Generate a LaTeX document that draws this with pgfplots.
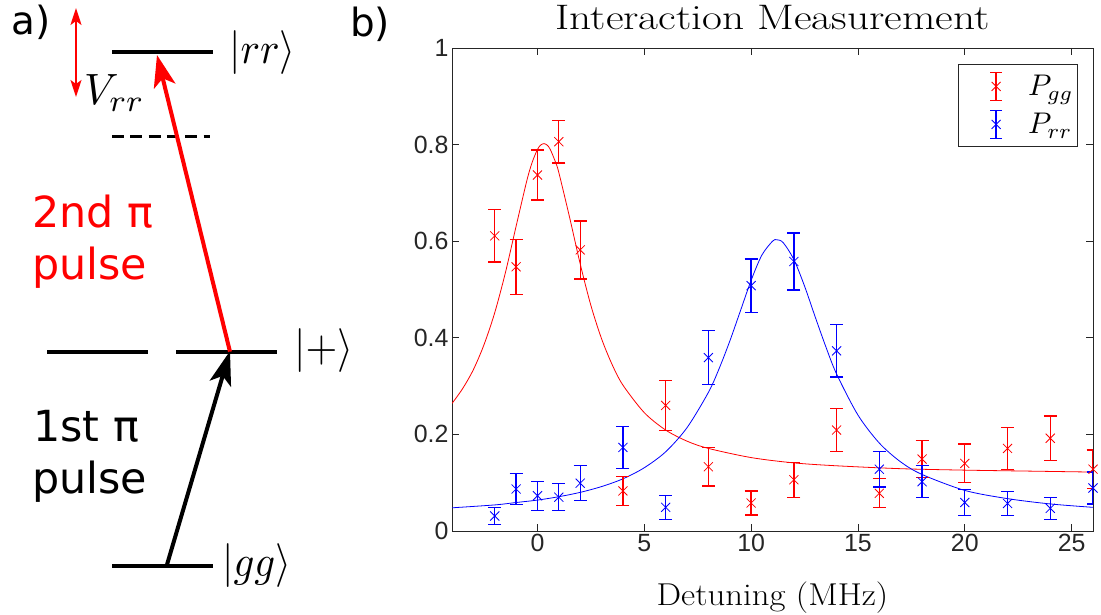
\documentclass[border=0pt]{standalone}
\usepackage{fontspec}
\usepackage{graphicx}
\usepackage{pgfplots}
\usepackage{pgfplotstable}
\pgfplotsset{compat=1.18}
\usetikzlibrary{arrows.meta}
\newfontfamily\dejavu{DejaVu Sans}
\newfontfamily\arialfont{Liberation Sans}
\definecolor{axgray}{RGB}{38,38,38}

\pgfplotstableread{
x y e
-2 0.611 0.054
-1 0.547 0.057
0 0.737 0.052
1 0.806 0.044
2 0.582 0.060
4 0.083 0.030
6 0.260 0.052
8 0.133 0.040
10 0.058 0.025
12 0.106 0.036
14 0.209 0.045
16 0.078 0.030
18 0.149 0.038
20 0.140 0.040
22 0.171 0.043
24 0.192 0.046
26 0.128 0.040
}\pgg
\pgfplotstableread{
x y e
-2 0.031 0.018
-1 0.087 0.032
0 0.073 0.030
1 0.070 0.028
2 0.099 0.036
4 0.173 0.043
6 0.049 0.025
8 0.359 0.056
10 0.508 0.055
12 0.558 0.059
14 0.373 0.054
16 0.128 0.037
18 0.102 0.033
20 0.059 0.027
22 0.057 0.025
24 0.047 0.023
26 0.089 0.033
}\prr

\begin{document}
\begin{tikzpicture}
\useasboundingbox (0,0) rectangle (1101bp,615bp);
% ---------------- panel a ----------------
\begin{scope}[shift={(0bp,615bp)}, x=1bp, y=-1bp]
  \draw[line width=4bp] (112,51.7)--(213,51.7);
  \draw[line width=3bp, dash pattern=on 12bp off 6.3bp] (112,137)--(210,137);
  \draw[line width=4bp] (47,351.7)--(148,351.7);
  \draw[line width=4bp] (176,351.7)--(277,351.7);
  \draw[line width=4bp] (112,565.7)--(213,565.7);
  \draw[red, line width=2bp, {Stealth[length=17bp,width=11bp,inset=4bp]}-{Stealth[length=17bp,width=11bp,inset=4bp]}] (76,8)--(76,97);
  \draw[red, line width=4bp, -{Stealth[length=32bp,width=22bp,inset=8bp]}] (230,351.7)--(157,55);
  \draw[black, line width=4bp, -{Stealth[length=34bp,width=22bp,inset=8bp]}] (166.7,565.7)--(230,351);
  \node[anchor=base west, inner sep=0, font=\dejavu\fontsize{39}{39}\selectfont] at (11,35) {a)};
  \node[anchor=base west, inner sep=0, font=\dejavu\fontsize{39}{39}\selectfont] at (350,37) {b)};
  \node[anchor=base west, inner sep=0] at (229,64) {\scalebox{4.1}[4.4]{$|rr\rangle$}};
  \node[anchor=base west, inner sep=0] at (84,105) {\scalebox{4.3}[4.4]{$V_{rr}$}};
  \node[anchor=base west, inner sep=0] at (294,362) {\scalebox{4.1}[4.4]{$|{+}\rangle$}};
  \node[anchor=base west, inner sep=0] at (222,577) {\scalebox{4.1}[4.4]{$|gg\rangle$}};
  \node[anchor=base west, inner sep=0, red, font=\dejavu\fontsize{43}{43}\selectfont] at (32,228) {2nd π};
  \node[anchor=base west, inner sep=0, red, font=\dejavu\fontsize{43}{43}\selectfont] at (32,280) {pulse};
  \node[anchor=base west, inner sep=0, font=\dejavu\fontsize{43}{43}\selectfont] at (33,442) {1st π};
  \node[anchor=base west, inner sep=0, font=\dejavu\fontsize{43}{43}\selectfont] at (32,494) {pulse};
\end{scope}
% ---------------- panel b ----------------
\begin{axis}[
  at={(452bp,84bp)}, anchor=south west,
  scale only axis, width=641bp, height=483bp,
  xmin=-4, xmax=26, ymin=0, ymax=1,
  xtick={0,5,...,25}, ytick={0,0.2,0.4,0.6,0.8,1},
  yticklabels={0,0.2,0.4,0.6,0.8,1},
  tick align=inside, major tick length=7bp,
  axis line style={axgray, line width=0.8bp},
  every tick/.style={axgray, line width=0.8bp},
  /pgf/number format/assume math mode=true,
  tick label style={font=\arialfont\fontsize{25}{25}\selectfont, text=axgray},
  title={\scalebox{1.22}[1]{Interaction Measurement}},
  title style={at={(0.5,1)}, anchor=base, yshift=12.5bp, inner sep=0, font=\fontsize{35.6}{36}\selectfont},
  xlabel={\scalebox{1.1}[1]{Detuning (MHz)}},
  xlabel style={at={(0.5,0)}, anchor=base, yshift=-74bp, inner sep=0, font=\fontsize{31.7}{32}\selectfont},
  legend style={at={(1,1)}, anchor=north east, xshift=-15bp, yshift=-16bp,
     draw=axgray, line width=0.8bp, fill=white, inner xsep=2bp, inner ysep=3bp,
     row sep=0bp},
  legend cell align=left,
]
\addplot[red, line width=0.8bp, smooth, forget plot] coordinates {
(-4,0.264) (-3.5,0.295) (-3,0.334) (-2.5,0.386) (-2,0.452) (-1.5,0.535) (-1,0.631) (-0.5,0.725) (-0.25,0.763) (0,0.790) (0.15,0.799) (0.3,0.802) (0.45,0.799) (0.6,0.790) (0.85,0.763) (1,0.742) (1.5,0.650) (2,0.553) (2.5,0.467) (3,0.398) (3.5,0.344) (4,0.302) (5,0.245) (6,0.209) (7,0.186) (8,0.171) (10,0.152) (12,0.141) (14,0.135) (17,0.129) (20,0.126) (23,0.124) (26,0.122)};
\addplot[blue, line width=0.8bp, smooth, forget plot] coordinates {
(-4,0.048) (-2,0.054) (-1,0.059) (0,0.064) (1,0.071) (2,0.080) (3,0.092) (4,0.108) (5,0.131) (6,0.164) (7,0.214) (8,0.287) (8.5,0.336) (9,0.393) (9.5,0.456) (10,0.519) (10.5,0.571) (11,0.600) (11.2,0.603) (11.5,0.597) (12,0.562) (12.5,0.507) (13,0.443) (13.5,0.381) (14,0.325) (15,0.240) (16,0.182) (17,0.143) (18,0.117) (20,0.084) (22,0.067) (24,0.056) (26,0.049)};
\addplot[red, only marks, mark=x, mark size=6.4bp, mark options={line width=0.8bp},
  legend image code/.code={
    \path[draw=none, fill=none] (-36bp,-19bp) rectangle (30bp,19bp);
    \draw[red, line width=1.3bp] (0,-14bp)--(0,14bp) (-6bp,-14bp)--(6bp,-14bp) (-6bp,14bp)--(6bp,14bp);
    \draw[red, line width=0.8bp] (-4.5bp,-4.5bp)--(4.5bp,4.5bp) (-4.5bp,4.5bp)--(4.5bp,-4.5bp);},
  error bars/.cd, y dir=both, y explicit,
  error bar style={line width=1.3bp},
  error mark options={rotate=90, mark size=6.5bp, line width=1.3bp}
] table[x=x, y=y, y error=e] {\pgg};
\addlegendentry{\scalebox{3.0}{$P_{gg}$}}
\addplot[blue, only marks, mark=x, mark size=6.4bp, mark options={line width=0.8bp},
  legend image code/.code={
    \path[draw=none, fill=none] (-36bp,-19bp) rectangle (30bp,19bp);
    \draw[blue, line width=1.3bp] (0,-14bp)--(0,14bp) (-6bp,-14bp)--(6bp,-14bp) (-6bp,14bp)--(6bp,14bp);
    \draw[blue, line width=0.8bp] (-4.5bp,-4.5bp)--(4.5bp,4.5bp) (-4.5bp,4.5bp)--(4.5bp,-4.5bp);},
  error bars/.cd, y dir=both, y explicit,
  error bar style={line width=1.3bp},
  error mark options={rotate=90, mark size=6.5bp, line width=1.3bp}
] table[x=x, y=y, y error=e] {\prr};
\addlegendentry{\scalebox{3.0}{$P_{rr}$}}
\end{axis}
\end{tikzpicture}
\end{document}
